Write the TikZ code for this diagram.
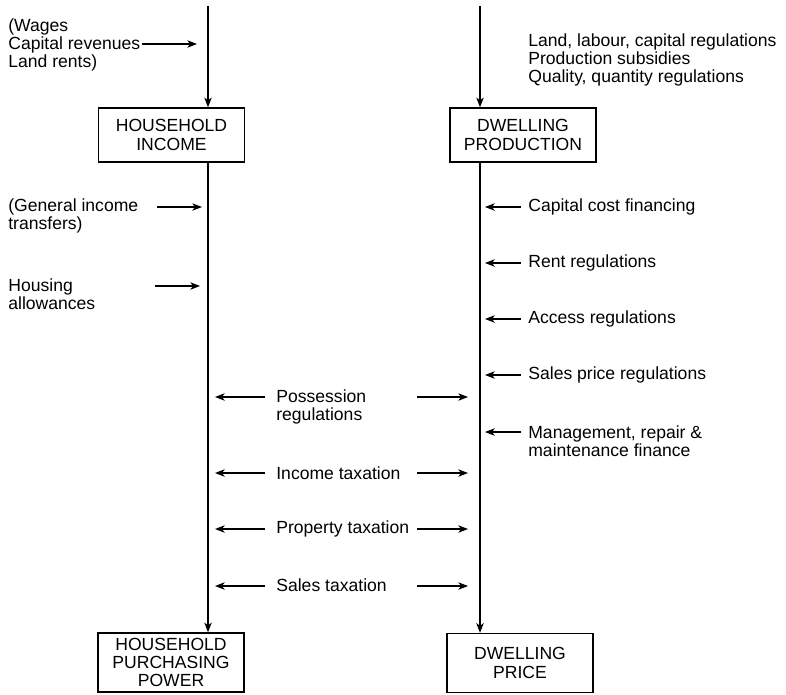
\documentclass[tikz,border=0pt]{standalone}
\usepackage{fontspec}
\setmainfont{Liberation Sans}
\usetikzlibrary{arrows.meta}

\begin{document}
\begin{tikzpicture}[x=0.02cm, y=-0.02cm,
  every node/.style={font=\fontsize{10}{10.4}\selectfont},
  box/.style={draw, line width=0.8pt, align=center, inner sep=0pt, minimum width=2.92cm, minimum height=1.08cm},
  lab/.style={align=left, anchor=west, inner sep=0pt},
  flow/.style={-{Stealth[length=5.5pt,width=4.2pt,inset=1.5pt]}, line width=0.6pt},
  main/.style={flow, line width=0.8pt},
]
\useasboundingbox (0,0) rectangle (786,694);

% the two streams
\coordinate (hh) at (208,6);
\coordinate (dw) at (480,6);

\node[box] (inc) at (171.5,135) {HOUSEHOLD\\INCOME};
\node[box] (prod) at (523,135) {DWELLING\\PRODUCTION};
\node[box, minimum height=1.18cm] (power) at (171,662.5) {HOUSEHOLD\\PURCHASING\\POWER};
\node[box, minimum height=1.18cm] (price) at (520,663) {DWELLING\\PRICE};

\draw[main] (hh) -- (hh |- inc.north);
\draw[main] (hh |- inc.south) -- (hh |- power.north);
\draw[main] (dw) -- (dw |- prod.north);
\draw[main] (dw |- prod.south) -- (dw |- price.north);

% household side
\node[lab] (wages) at (8,45) {(Wages\\Capital revenues\\Land rents)};
\node[lab] (transf) at (8,216) {(General income\\transfers)};
\node[lab] (allow) at (8,294) {Housing\\allowances};

\coordinate (w1) at (142,44);
\coordinate (t1) at (157,207);
\coordinate (a1) at (155,286);
\draw[flow, shorten >=0.22cm] (w1) -- (w1 -| hh);
\draw[flow, shorten >=0.12cm] (t1) -- (t1 -| hh);
\draw[flow, shorten >=0.16cm] (a1) -- (a1 -| hh);

% dwelling side
\node[lab] (factors) at (528,60) {Land, labour, capital regulations\\Production subsidies\\Quality, quantity regulations};
\node[lab] (capcost) at (528,207) {Capital cost financing};
\node[lab] (rentreg) at (528,263) {Rent regulations};
\node[lab] (access) at (528,319) {Access regulations};
\node[lab] (saleprice) at (528,375) {Sales price regulations};
\node[lab] (mgmt) at (528,441) {Management, repair \&\\maintenance finance};

\coordinate (c1) at (521,207);
\coordinate (c2) at (521,263);
\coordinate (c3) at (521,319);
\coordinate (c4) at (521,375);
\coordinate (c5) at (521,432);
\draw[flow, shorten >=0.1cm] (c1) -- (c1 -| dw);
\draw[flow, shorten >=0.1cm] (c2) -- (c2 -| dw);
\draw[flow, shorten >=0.1cm] (c3) -- (c3 -| dw);
\draw[flow, shorten >=0.1cm] (c4) -- (c4 -| dw);
\draw[flow, shorten >=0.1cm] (c5) -- (c5 -| dw);

% acting on both
\node[lab] (poss) at (276,407) {Possession\\regulations};
\node[lab] (inctax) at (276,473) {Income taxation};
\node[lab] (proptax) at (276,529) {Property taxation};
\node[lab] (saletax) at (276,585) {Sales taxation};

\coordinate (p1) at (265,397);
\coordinate (p2) at (265,473);
\coordinate (p3) at (265,529);
\coordinate (p4) at (265,586);
\coordinate (q1) at (417,397);
\coordinate (q2) at (417,473);
\coordinate (q3) at (417,529);
\coordinate (q4) at (417,586);
\draw[flow, shorten >=0.14cm] (p1) -- (p1 -| hh);
\draw[flow, shorten >=0.14cm] (p2) -- (p2 -| hh);
\draw[flow, shorten >=0.14cm] (p3) -- (p3 -| hh);
\draw[flow, shorten >=0.14cm] (p4) -- (p4 -| hh);
\draw[flow, shorten >=0.24cm] (q1) -- (q1 -| dw);
\draw[flow, shorten >=0.24cm] (q2) -- (q2 -| dw);
\draw[flow, shorten >=0.24cm] (q3) -- (q3 -| dw);
\draw[flow, shorten >=0.24cm] (q4) -- (q4 -| dw);

\end{tikzpicture}
\end{document}
